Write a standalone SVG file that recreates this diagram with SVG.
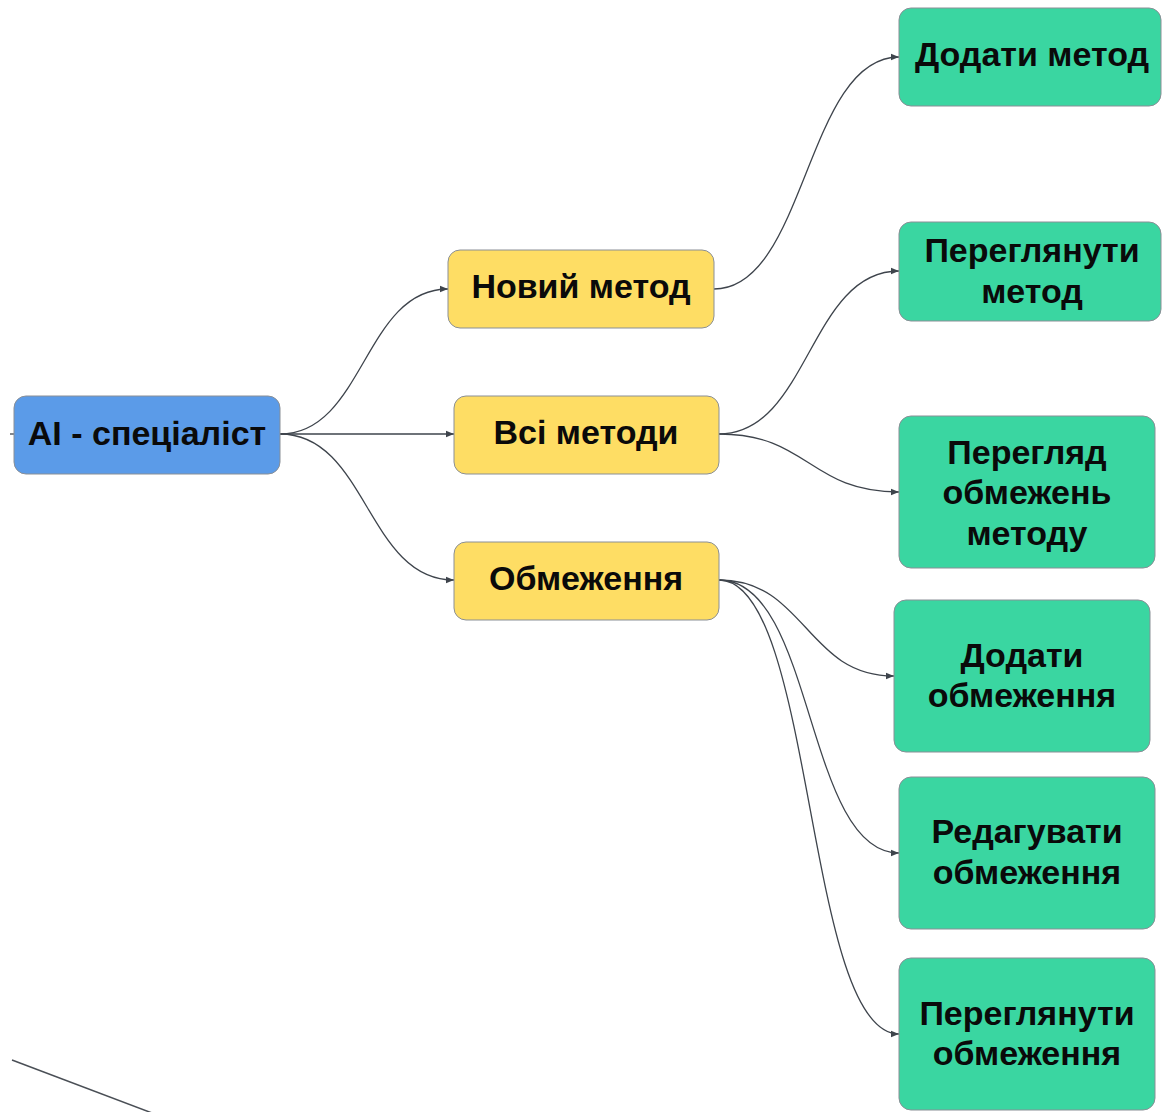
<svg xmlns="http://www.w3.org/2000/svg" width="1163" height="1112" viewBox="0 0 1163 1112">
<defs>
<style>
.n{stroke:#8a8f96;stroke-width:1}
.b{fill:#5b9be8}
.y{fill:#fedd64}
.g{fill:#3ad6a1}
.t{font-family:"Liberation Sans",Arial,sans-serif;font-weight:bold;font-size:34px;fill:#0a0a0a;text-anchor:middle}
.c{fill:none;stroke:#3e444c;stroke-width:1.3}
</style>
<marker id="ah" viewBox="0 0 10 10" refX="10" refY="5" markerWidth="8" markerHeight="8" markerUnits="userSpaceOnUse" orient="auto">
<path d="M0,1 L10,5 L0,9 Z" fill="#3e444c"/>
</marker>
</defs>
<rect width="1163" height="1112" fill="#ffffff"/>
<g id="connectors">
<line x1="10" y1="434" x2="14" y2="434" stroke="#3e444c" stroke-width="1.3"/>
<path class="c" d="M280,434 C364,434 364,289 448,289" marker-end="url(#ah)"/>
<path class="c" d="M280,434 L454,434" marker-end="url(#ah)"/>
<path class="c" d="M280,434 C367,434 367,580 454,580" marker-end="url(#ah)"/>
<path class="c" d="M714,289 C806,289 806,57 899,57" marker-end="url(#ah)"/>
<path class="c" d="M719,434 C809,434 809,271 899,271" marker-end="url(#ah)"/>
<path class="c" d="M719,434 C809,434 809,492 899,492" marker-end="url(#ah)"/>
<path class="c" d="M719,580 C806,580 806,676 894,676" marker-end="url(#ah)"/>
<path class="c" d="M719,580 C815,580 805,853 899,853" marker-end="url(#ah)"/>
<path class="c" d="M719,580 C815,580 805,1034 899,1034" marker-end="url(#ah)"/>
<line x1="12" y1="1060" x2="160" y2="1116" stroke="#4a4f56" stroke-width="1.5"/>
</g>
<g id="ai">
<rect class="n b" x="14" y="396" width="266" height="78" rx="12"/>
<text class="t" x="147" y="445">AI - спеціаліст</text>
</g>
<g id="new-method">
<rect class="n y" x="448" y="250" width="266" height="78" rx="12"/>
<text class="t" x="581" y="298">Новий метод</text>
</g>
<g id="all-methods">
<rect class="n y" x="454" y="396" width="265" height="78" rx="12"/>
<text class="t" x="586" y="444">Всі методи</text>
</g>
<g id="constraints">
<rect class="n y" x="454" y="542" width="265" height="78" rx="12"/>
<text class="t" x="586" y="590">Обмеження</text>
</g>
<g id="add-method">
<rect class="n g" x="899" y="8" width="262" height="98" rx="12"/>
<text class="t" x="1032" y="66">Додати метод</text>
</g>
<g id="view-method">
<rect class="n g" x="899" y="222" width="262" height="99" rx="12"/>
<text class="t" x="1032" y="262">Переглянути</text>
<text class="t" x="1032" y="303">метод</text>
</g>
<g id="view-method-constraints">
<rect class="n g" x="899" y="416" width="256" height="152" rx="12"/>
<text class="t" x="1027" y="464">Перегляд</text>
<text class="t" x="1027" y="504">обмежень</text>
<text class="t" x="1027" y="545">методу</text>
</g>
<g id="add-constraints">
<rect class="n g" x="894" y="600" width="256" height="152" rx="12"/>
<text class="t" x="1022" y="667">Додати</text>
<text class="t" x="1022" y="707">обмеження</text>
</g>
<g id="edit-constraints">
<rect class="n g" x="899" y="777" width="256" height="152" rx="12"/>
<text class="t" x="1027" y="843">Редагувати</text>
<text class="t" x="1027" y="884">обмеження</text>
</g>
<g id="view-constraints">
<rect class="n g" x="899" y="958" width="256" height="152" rx="12"/>
<text class="t" x="1027" y="1025">Переглянути</text>
<text class="t" x="1027" y="1065">обмеження</text>
</g>
</svg>
